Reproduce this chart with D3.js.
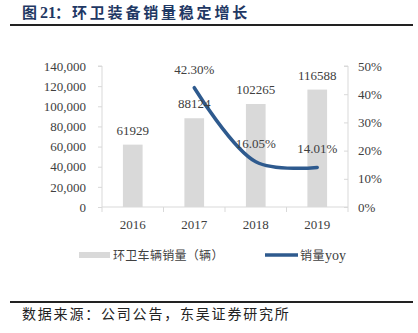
<!DOCTYPE html>
<html><head><meta charset="utf-8">
<script src="https://cdn.jsdelivr.net/npm/d3@7"></script>
<style>body{margin:0;background:#fff}svg{display:block}</style>
</head><body>
<svg id="c" width="418" height="333"></svg>
<script>
const years = ["2016","2017","2018","2019"];
const sales = [61929, 88124, 102265, 116588];
const yoyYears = ["2017","2018","2019"];
const yoy = [42.30, 16.05, 14.01];
const leftTicks = [0,20000,40000,60000,80000,100000,120000,140000];
const rightTicks = [0,10,20,30,40,50];
const titleParts = ["图", "21", "：", "环卫装备销量稳定增长"];
const source = "数据来源：公司公告，东吴证券研究所";
const legendNames = ["环卫车辆销量（辆）","销量","yoy"];

const svg = d3.select("#c");
const serif = "'Liberation Serif','Times New Roman',serif";
const cjk = "'Noto Sans CJK SC',sans-serif";
const L = 102, R = 348, T = 66, B = 207;
const x = d3.scaleBand().domain(years).range([L, R]).paddingInner(0.68).paddingOuter(0.34);
const xb = d3.scaleBand().domain(years).range([L, R]);
const yL = d3.scaleLinear().domain([0,140000]).range([B, T]);
const yR = d3.scaleLinear().domain([0,50]).range([B, T]);
const axisCol = "#d9d9d9", textCol = "#404040";

// title
const tt = svg.append("text").attr("y", 18).attr("fill", "#1f3864").attr("font-weight", "bold");
tt.append("tspan").attr("x",22).attr("font-family",cjk).attr("font-size",15).text(titleParts[0]);
tt.append("tspan").attr("x",40).attr("font-family",serif).attr("font-size",16).text(titleParts[1]);
tt.append("tspan").attr("x",55).attr("font-family",cjk).attr("font-size",15).text(titleParts[2]);
tt.append("tspan").attr("x",72).attr("font-family",cjk).attr("font-size",15).attr("letter-spacing",2.8).text(titleParts[3]);
svg.append("line").attr("x1",10).attr("x2",413).attr("y1",25).attr("y2",25)
  .attr("stroke","#222").attr("stroke-width",2);

// bars
svg.selectAll("rect.bar").data(sales).join("rect").attr("class","bar")
  .attr("x",(d,i)=>x(years[i])).attr("width",x.bandwidth())
  .attr("y",d=>yL(d)).attr("height",d=>B-yL(d)).attr("fill","#d9d9d9");

// left axis
const gl = svg.append("g").attr("transform",`translate(${L},0)`)
  .call(d3.axisLeft(yL).tickValues(leftTicks).tickSize(4).tickPadding(12).tickFormat(d3.format(",")));
gl.select(".domain").attr("stroke",axisCol).attr("d",`M-4,${T}H0V${B}`);
gl.selectAll(".tick line").attr("stroke",axisCol);
gl.selectAll("text").attr("font-family",serif).attr("font-size",13).attr("fill",textCol);

// right axis
const gr = svg.append("g").attr("transform",`translate(${R},0)`)
  .call(d3.axisRight(yR).tickValues(rightTicks).tickSize(-4).tickPadding(10).tickFormat(d=>d+"%"));
gr.select(".domain").attr("stroke",axisCol).attr("d",`M-4,${T}H0V${B}`);
gr.selectAll(".tick line").attr("stroke",axisCol);
gr.selectAll("text").attr("font-family",serif).attr("font-size",13).attr("fill",textCol);

// x axis
const gx = svg.append("g").attr("transform",`translate(0,${B})`);
gx.append("line").attr("x1",L).attr("x2",R).attr("stroke",axisCol);
const bounds = years.map(y=>xb(y)).concat([R]);
gx.selectAll("line.tk").data(bounds).join("line").attr("class","tk")
  .attr("x1",d=>d).attr("x2",d=>d).attr("y1",0).attr("y2",5).attr("stroke",axisCol);
gx.selectAll("text").data(years).join("text")
  .attr("x",d=>xb(d)+xb.bandwidth()/2).attr("y",22).attr("text-anchor","middle")
  .attr("font-family",serif).attr("font-size",13).attr("fill",textCol).text(d=>d);

// line
const pts = yoy.map((v,i)=>[xb(yoyYears[i])+xb.bandwidth()/2, yR(v)]);
svg.append("path").attr("d", d3.line().curve(d3.curveCatmullRom)(pts))
  .attr("fill","none").attr("stroke","#2e5a8e").attr("stroke-width",3.5).attr("stroke-linecap","round");

// bar labels
svg.selectAll("text.bl").data(sales).join("text").attr("class","bl")
  .attr("x",(d,i)=>xb(years[i])+xb.bandwidth()/2).attr("y",d=>yL(d)-10)
  .attr("text-anchor","middle").attr("font-family",serif).attr("font-size",13).attr("fill",textCol)
  .text(d=>d);
// yoy labels
svg.selectAll("text.yl").data(yoy).join("text").attr("class","yl")
  .attr("x",(d,i)=>pts[i][0]).attr("y",(d,i)=>pts[i][1]-14)
  .attr("text-anchor","middle").attr("font-family",serif).attr("font-size",13).attr("fill",textCol)
  .text(d=>d.toFixed(2)+"%");

// legend
svg.append("rect").attr("x",79).attr("y",252).attr("width",31).attr("height",6).attr("fill","#d9d9d9");
svg.append("text").attr("x",113).attr("y",260).attr("font-family",cjk).attr("font-size",12)
  .attr("letter-spacing",0.3).attr("fill",textCol).text(legendNames[0]);
svg.append("line").attr("x1",265).attr("x2",298).attr("y1",255).attr("y2",255)
  .attr("stroke","#2e5a8e").attr("stroke-width",3.5);
const lt = svg.append("text").attr("x",300).attr("y",260).attr("fill",textCol);
lt.append("tspan").attr("font-family",cjk).attr("font-size",12).attr("letter-spacing",0.5).text(legendNames[1]);
lt.append("tspan").attr("font-family",serif).attr("font-size",14).text(legendNames[2]);

// footer
svg.append("line").attr("x1",10).attr("x2",413).attr("y1",302).attr("y2",302)
  .attr("stroke","#222").attr("stroke-width",2);
svg.append("text").attr("x",22).attr("y",319).attr("font-family",cjk).attr("font-size",14)
  .attr("letter-spacing",1.8).attr("fill","#222").text(source);
</script>
</body></html>
